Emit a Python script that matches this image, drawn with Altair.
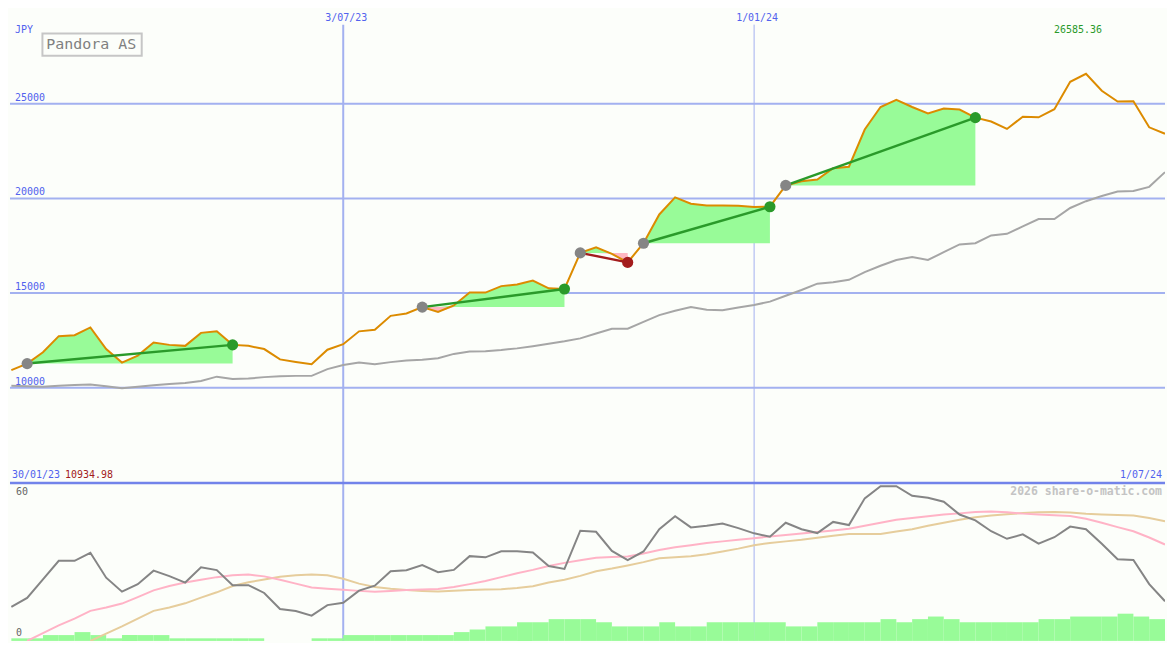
import altair as alt
import pandas as pd

# ---------------- data (weekly, Mondays) ----------------
dates = pd.date_range("2023-02-06", periods=74, freq="7D")

price = [10934.98, 11279, 11877, 12726, 12777, 13186, 12046, 11330, 11703, 12388,
         12266, 12214, 12900, 12981, 12266, 12214, 12046, 11498, 11365, 11243,
         12010, 12301, 12981, 13068, 13800, 13922, 14260, 14004, 14347, 15027,
         15027, 15370, 15457, 15661, 15252, 15216, 17124, 17415, 17073, 16623,
         17635, 19154, 20059, 19717, 19630, 19630, 19614, 19548, 19563, 20688,
         20908, 20995, 21593, 21675, 23639, 24831, 25204, 24831, 24488, 24744,
         24693, 24268, 24064, 23670, 24319, 24284, 24713, 26160, 26585.36, 25685,
         25122, 25137, 23757, 23414]

ma = [10102, 10077, 10051, 10102, 10153, 10179, 10077, 9974, 10051, 10128,
      10205, 10256, 10358, 10588, 10460, 10486, 10563, 10614, 10629, 10629,
      10987, 11202, 11330, 11243, 11355, 11447, 11483, 11560, 11790, 11918,
      11928, 11994, 12081, 12199, 12327, 12455, 12608, 12864, 13120, 13120,
      13478, 13836, 14066, 14260, 14117, 14091, 14245, 14372, 14551, 14858,
      15165, 15498, 15574, 15702, 16111, 16444, 16750, 16904, 16750, 17160,
      17569, 17635, 18044, 18131, 18525, 18914, 18914, 19497, 19855, 20126,
      20366, 20397, 20612, 21389]

osc = [13.1, 16.6, 23.7, 30.9, 30.9, 34.0, 24.4, 19.0, 21.9, 27.1,
       25.0, 22.5, 28.4, 27.3, 21.5, 21.5, 18.5, 12.3, 11.5, 9.75,
       13.8, 14.7, 19.4, 21.3, 26.9, 27.3, 29.25, 26.5, 27.4, 32.7,
       32.25, 34.6, 34.6, 34.1, 28.9, 27.75, 42.5, 42.1, 34.7, 31.2,
       34.5, 43.1, 48.1, 43.8, 44.4, 45.3, 43.5, 41.5, 40.2, 45.6,
       43.1, 41.6, 45.9, 44.7, 55.0, 59.7, 59.7, 56.0, 55.2, 53.7,
       48.75, 46.5, 42.3, 39.4, 41.1, 37.5, 40.0, 44.1, 43.1, 37.5,
       31.5, 31.2, 21.9, 15.3]

osc_pink = [None, 0.0, 3.0, 6.0, 8.6, 11.6, 12.9, 14.4, 16.9, 19.5,
            21.2, 22.5, 23.6, 24.6, 25.3, 25.6, 24.9, 23.6, 22.1, 20.6,
            20.1, 19.7, 19.3, 19.0, 19.3, 19.6, 19.8, 20.0, 20.8, 21.9,
            23.1, 24.6, 26.1, 27.4, 28.9, 30.1, 31.1, 32.1, 32.4, 32.6,
            33.75, 35.1, 36.1, 36.9, 37.8, 38.4, 39.0, 39.6, 40.3, 40.9,
            41.4, 42.0, 42.6, 43.3, 44.4, 45.6, 46.7, 47.4, 48.1, 48.75,
            49.2, 49.7, 49.95, 49.6, 49.1, 48.75, 48.5, 48.2, 47.1, 45.6,
            43.9, 42.3, 39.9, 37.2]

osc_tan = [None, None, None, None, None, 0.0, 2.8, 5.6, 8.6, 11.6,
           12.9, 14.5, 16.7, 18.75, 21.2, 22.6, 23.7, 24.75, 25.3, 25.6,
           25.3, 24.0, 22.1, 20.8, 20.1, 19.6, 19.3, 19.05, 19.35, 19.6,
           19.8, 19.95, 20.4, 21.1, 22.5, 23.6, 25.1, 26.9, 27.9, 29.1,
           30.4, 31.9, 32.3, 32.7, 33.4, 34.5, 35.6, 36.9, 37.8, 38.4,
           39.0, 39.8, 40.6, 41.25, 41.25, 41.25, 42.2, 43.1, 44.4, 45.6,
           46.7, 47.7, 48.4, 48.9, 49.3, 49.6, 49.7, 49.5, 49.05, 48.8,
           48.6, 48.4, 47.4, 46.2]

vol = [1.0, 1.0, 2.25, 2.25, 3.4, 2.25, 1.0, 2.25, 2.25, 2.25,
       1.0, 1.0, 1.0, 1.0, 1.0, 1.0, 0, 0, 0, 1.0,
       1.0, 2.25, 2.25, 2.25, 2.25, 2.25, 2.25, 2.25, 3.4, 4.4,
       5.6, 5.6, 7.2, 7.2, 8.4, 8.4, 8.4, 7.2, 5.6, 5.6,
       5.6, 7.2, 5.6, 5.6, 7.2, 7.2, 7.2, 7.2, 7.2, 5.6,
       5.6, 7.2, 7.2, 7.2, 7.2, 8.4, 7.2, 8.4, 9.4, 8.4,
       7.2, 7.2, 7.2, 7.2, 7.2, 8.4, 8.4, 9.4, 9.4, 9.4,
       10.5, 9.4, 8.4]

# trend segments (start index, end index) into the weekly series
segments = [(1, 14), (26, 35), (36, 39), (40, 48), (49, 61)]

grid_vals = [10000, 15000, 20000, 25000]
grid_labels = ["10000", "15000", "20000", "25000"]
vline_dates = ["2023-07-03", "2024-01-01"]
vline_labels = ["3/07/23", "1/01/24"]
vline_widths = [2, 1]
start_label = "30/01/23"
end_label = "1/07/24"
title = "Pandora AS"
currency = "JPY"
osc_ticks = ["60", "0"]
watermark = "2026 share-o-matic.com"

# ---------------- layout / style ----------------
W, HT, HB = 1159, 475, 159
sx, syT, syB = W / 1175, HT / 487, HB / 163

BG = "#fcfefa"
BLUE = "#5262ee"
GRID = "#a3b1f0"
DIV = "#7283ea"
ORANGE = "#dc8b00"
GREEN = "#2a9a2a"
RED = "#a31c1c"
FILL_G = "#98fb98"
FILL_P = "#ffb6c1"
FONT = "DejaVu Sans Mono"

xdom = [alt.DateTime(year=2023, month=2, date=5, hours=9, minutes=36),
        alt.DateTime(year=2024, month=7, date=1)]
xs = alt.Scale(domain=xdom)
X = alt.X("date:T", scale=xs, axis=None)
ysT = alt.Scale(domain=[5000, 30000], nice=False, zero=False)
ysB = alt.Scale(domain=[0, 61.125], nice=False, zero=False)
dir_scale = alt.Scale(domain=["up", "down"], range=[GREEN, RED])

df = pd.DataFrame({"date": dates, "price": price, "ma": ma, "osc": osc,
                   "pink": osc_pink, "tan": osc_tan})

# fills / trend lines / markers derived from the segments
fill_rows, trend_rows, start_rows, end_rows = [], [], [], []
for n, (s, e) in enumerate(segments):
    base = price[s]
    d = "up" if price[e] >= base else "down"
    for k in range(s, e + 1):
        fill_rows.append({"seg": n, "date": dates[k], "base": base,
                          "hi": max(price[k], base), "lo": min(price[k], base)})
    trend_rows += [{"seg": n, "date": dates[s], "price": price[s], "dir": d},
                   {"seg": n, "date": dates[e], "price": price[e], "dir": d}]
    start_rows.append({"date": dates[s], "price": price[s]})
    end_rows.append({"date": dates[e], "price": price[e], "dir": d})
fill_df = pd.DataFrame(fill_rows)
trend_df = pd.DataFrame(trend_rows)
start_df = pd.DataFrame(start_rows)
end_df = pd.DataFrame(end_rows)

vgrid_df = pd.DataFrame({"date": pd.to_datetime(vline_dates), "w": vline_widths,
                         "label": vline_labels})
imax = max(range(len(price)), key=lambda i: price[i])
imin = min(range(len(price)), key=lambda i: price[i])
max_df = pd.DataFrame({"date": [dates[imax]], "t": [f"{price[imax]:.2f}"]})

vol_df = pd.DataFrame({"date": dates[:-1], "next": dates[1:], "vol": vol,
                       "zero": [0.0] * len(vol)})


def label(text, x, y, color, size=10, align="left", weight="normal"):
    return alt.Chart(pd.DataFrame({"t": [text]})).mark_text(
        align=align, baseline="alphabetic", font=FONT, fontSize=size,
        color=color, fontWeight=weight
    ).encode(x=alt.value(x), y=alt.value(y), text="t:N")


one = pd.DataFrame({"a": [0]})

# ---------------- top panel ----------------
grid_h = alt.Chart(pd.DataFrame({"v": grid_vals})).mark_rule(
    color=GRID, strokeWidth=2).encode(y=alt.Y("v:Q", scale=ysT, axis=None))
grid_v = alt.Chart(vgrid_df).mark_rule(color=GRID).encode(
    x=X, y=alt.value(16 * syT), y2=alt.value(HT),
    strokeWidth=alt.StrokeWidth("w:Q", scale=None, legend=None))
fill_g = alt.Chart(fill_df).mark_area(color=FILL_G, opacity=1).encode(
    x=X, y=alt.Y("hi:Q", scale=ysT, axis=None), y2="base:Q", detail="seg:N")
fill_p = alt.Chart(fill_df).mark_area(color=FILL_P, opacity=1).encode(
    x=X, y=alt.Y("lo:Q", scale=ysT, axis=None), y2="base:Q", detail="seg:N")
ma_line = alt.Chart(df).mark_line(color="#a6a6a6", strokeWidth=2, clip=True).encode(
    x=X, y=alt.Y("ma:Q", scale=ysT, axis=None))
price_line = alt.Chart(df).mark_line(color=ORANGE, strokeWidth=2, clip=True).encode(
    x=X, y=alt.Y("price:Q", scale=ysT, axis=None))
trend = alt.Chart(trend_df).mark_line(strokeWidth=2.5).encode(
    x=X, y=alt.Y("price:Q", scale=ysT, axis=None), detail="seg:N",
    color=alt.Color("dir:N", scale=dir_scale, legend=None))
start_dots = alt.Chart(start_df).mark_circle(size=125, opacity=1, color="#858585").encode(
    x=X, y=alt.Y("price:Q", scale=ysT, axis=None))
end_dots = alt.Chart(end_df).mark_circle(size=125, opacity=1).encode(
    x=X, y=alt.Y("price:Q", scale=ysT, axis=None),
    color=alt.Color("dir:N", scale=dir_scale, legend=None))
ylab = alt.Chart(pd.DataFrame({"v": grid_vals, "t": grid_labels})).mark_text(
    align="left", baseline="alphabetic", dy=-3, font=FONT, fontSize=10, color=BLUE
).encode(x=alt.value(5 * sx), y=alt.Y("v:Q", scale=ysT, axis=None), text="t:N")
datelab = alt.Chart(vgrid_df).mark_text(
    align="center", baseline="alphabetic", dx=3, font=FONT, fontSize=10, color=BLUE
).encode(x=X, y=alt.value(12.5 * syT), text="label:N")
maxlab = alt.Chart(max_df).mark_text(
    align="center", baseline="alphabetic", dx=-8, font=FONT, fontSize=10, color=GREEN
).encode(x=X, y=alt.value(25 * syT), text="t:N")
box = alt.Chart(one).mark_rect(fill=BG, stroke="#c6c6c6", strokeWidth=2).encode(
    x=alt.value(33 * sx), x2=alt.value(134 * sx), y=alt.value(25 * syT), y2=alt.value(48 * syT))

top = alt.layer(
    grid_h, grid_v, fill_g, fill_p, ma_line, price_line, trend, start_dots, end_dots,
    ylab, datelab, maxlab,
    label(currency, 5 * sx, 25 * syT, BLUE),
    box,
    label(title, 37 * sx, 41.5 * syT, "#808080", size=15),
    label(start_label, 2 * sx, 482.5 * syT, BLUE),
    label(f"{price[imin]:.2f}", 56 * sx, 482.5 * syT, RED),
    label(end_label, W - 3, 482.5 * syT, BLUE, align="right"),
).properties(width=W, height=HT)

# ---------------- bottom panel ----------------
bgrid_v = alt.Chart(vgrid_df).mark_rule(color=GRID).encode(
    x=X, y=alt.value(0), y2=alt.value(HB),
    strokeWidth=alt.StrokeWidth("w:Q", scale=None, legend=None))
bars = alt.Chart(vol_df).mark_rect(color=FILL_G).encode(
    x=X, x2="next:T", y=alt.Y("vol:Q", scale=ysB, axis=None), y2="zero:Q")
tan_line = alt.Chart(df).mark_line(color="#e6cd9c", strokeWidth=2, clip=True).encode(
    x=X, y=alt.Y("tan:Q", scale=ysB, axis=None))
pink_line = alt.Chart(df).mark_line(color="#ffb3c6", strokeWidth=2, clip=True).encode(
    x=X, y=alt.Y("pink:Q", scale=ysB, axis=None))
osc_line = alt.Chart(df).mark_line(color="#858585", strokeWidth=2, clip=True).encode(
    x=X, y=alt.Y("osc:Q", scale=ysB, axis=None))
divider = alt.Chart(one).mark_rule(color=DIV, strokeWidth=2.5).encode(
    x=alt.value(0), x2=alt.value(W), y=alt.value(0.5))

bottom = alt.layer(
    bgrid_v, bars, tan_line, pink_line, osc_line, divider,
    label(osc_ticks[0], 6 * sx, 13 * syB, "#666666"),
    label(osc_ticks[1], 6 * sx, 158 * syB, "#666666"),
    label(watermark, W - 3, 12.5 * syB, "#c4c4c4", size=11.5, align="right", weight="bold"),
).properties(width=W, height=HB)

chart = alt.vconcat(top, bottom, spacing=0, bounds="flush").properties(
    padding=0, background=BG).configure_view(stroke=None)

chart.save("out.html", embed_options={"renderer": "svg", "actions": False})
